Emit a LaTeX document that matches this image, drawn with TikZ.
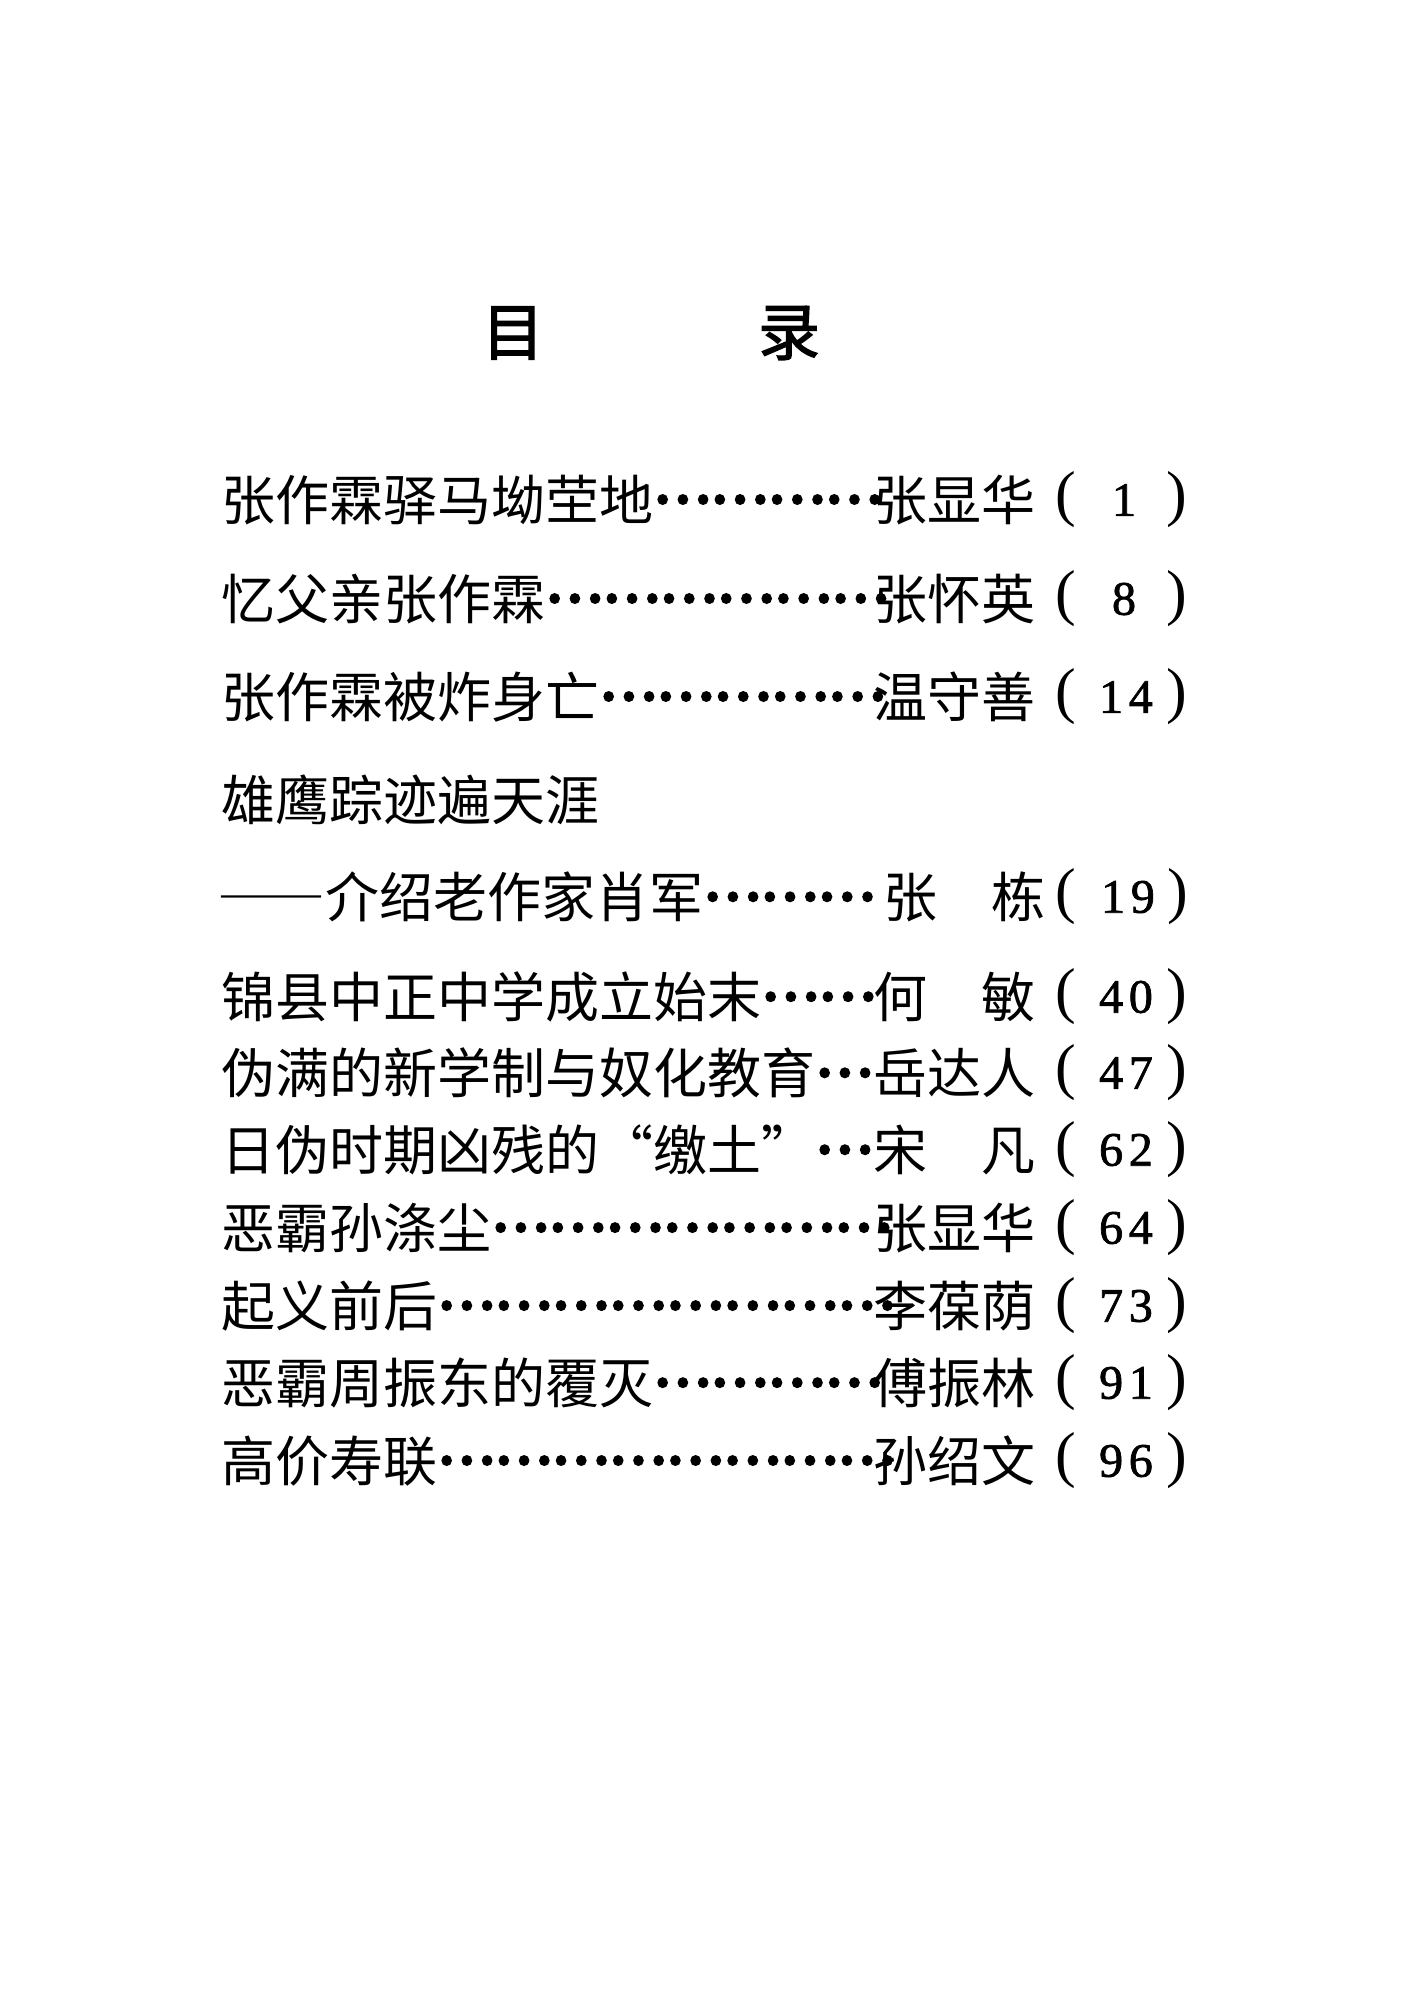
\documentclass[tikz,border=0pt]{standalone}
\usepackage{fontspec}
\newfontfamily\cjk[CharacterWidth=Full]{Noto Sans CJK SC}
\newfontfamily\headfont[FakeBold=2]{Noto Sans CJK SC}
\newfontfamily\numfont[LetterSpace=12,FakeBold=1.5]{Liberation Serif}
\newfontfamily\parenfont{Liberation Serif}
\newcommand\tocdots[1]{\raisebox{0.33em}{\addfontfeature{FakeBold=6}#1}}
\begin{document}
\begin{tikzpicture}[x=0.5pt,y=-0.5pt,
  heading/.style={font=\headfont\fontsize{31}{31}\selectfont,inner sep=0pt},
  title/.style={font=\cjk\fontsize{27}{27}\selectfont,inner sep=0pt,anchor=west},
  writer/.style={title},
  paren/.style={font=\parenfont\fontsize{31}{31}\selectfont,inner sep=0pt},
  pageno/.style={font=\numfont\fontsize{24}{24}\selectfont,inner sep=0pt}]
\useasboundingbox[fill=white] (0,0) rectangle (1405,2016);
\node[heading] (mu) at (513,333) {目};
\node[heading] (lu) at (789,333) {录};

\node[title] (t1) at (221,500) {张作霖驿马坳茔地\tocdots{…………}};
\node[writer] (a1) at (873,500) {张显华};
\node[paren] (l1) at (1066,500) {(};
\node[pageno] (p1) at (1124,500) {1};
\node[paren] (r1) at (1177,500) {)};

\node[title] (t2) at (221,599) {忆父亲张作霖\tocdots{………………}};
\node[writer] (a2) at (873,599) {张怀英};
\node[paren] (l2) at (1066,599) {(};
\node[pageno] (p2) at (1124,599) {8};
\node[paren] (r2) at (1177,599) {)};

\node[title] (t3) at (221,697) {张作霖被炸身亡\tocdots{……………}};
\node[writer] (a3) at (873,697) {温守善};
\node[paren] (l3) at (1066,697) {(};
\node[pageno] (p3) at (1126,697) {14};
\node[paren] (r3) at (1177,697) {)};

\node[title] (t4) at (221,800) {雄鹰踪迹遍天涯};

\node[title] (t5) at (217,897) {——介绍老作家肖军\tocdots{………}};
\node[writer] (a5) at (883,897) {张　栋};
\node[paren] (l5) at (1066,897) {(};
\node[pageno] (p5) at (1128,897) {19};
\node[paren] (r5) at (1178,897) {)};

\node[title] (t6) at (221,997) {锦县中正中学成立始末\tocdots{……}};
\node[writer] (a6) at (873,997) {何　敏};
\node[paren] (l6) at (1066,997) {(};
\node[pageno] (p6) at (1126,997) {40};
\node[paren] (r6) at (1177,997) {)};

\node[title] (t7) at (221,1073) {伪满的新学制与奴化教育\tocdots{…}};
\node[writer] (a7) at (873,1073) {岳达人};
\node[paren] (l7) at (1066,1073) {(};
\node[pageno] (p7) at (1126,1073) {47};
\node[paren] (r7) at (1177,1073) {)};

\node[title] (t8) at (221,1150) {日伪时期凶残的“缴土”\tocdots{…}};
\node[writer] (a8) at (873,1150) {宋　凡};
\node[paren] (l8) at (1066,1150) {(};
\node[pageno] (p8) at (1126,1150) {62};
\node[paren] (r8) at (1177,1150) {)};

\node[title] (t9) at (221,1228) {恶霸孙涤尘\tocdots{…………………}};
\node[writer] (a9) at (873,1228) {张显华};
\node[paren] (l9) at (1066,1228) {(};
\node[pageno] (p9) at (1126,1228) {64};
\node[paren] (r9) at (1177,1228) {)};

\node[title] (t10) at (221,1306) {起义前后\tocdots{……………………}};
\node[writer] (a10) at (873,1306) {李葆荫};
\node[paren] (l10) at (1066,1306) {(};
\node[pageno] (p10) at (1126,1306) {73};
\node[paren] (r10) at (1177,1306) {)};

\node[title] (t11) at (221,1383) {恶霸周振东的覆灭\tocdots{…………}};
\node[writer] (a11) at (873,1383) {傅振林};
\node[paren] (l11) at (1066,1383) {(};
\node[pageno] (p11) at (1126,1383) {91};
\node[paren] (r11) at (1177,1383) {)};

\node[title] (t12) at (221,1461) {高价寿联\tocdots{……………………}};
\node[writer] (a12) at (873,1461) {孙绍文};
\node[paren] (l12) at (1066,1461) {(};
\node[pageno] (p12) at (1126,1461) {96};
\node[paren] (r12) at (1177,1461) {)};
\end{tikzpicture}
\end{document}
